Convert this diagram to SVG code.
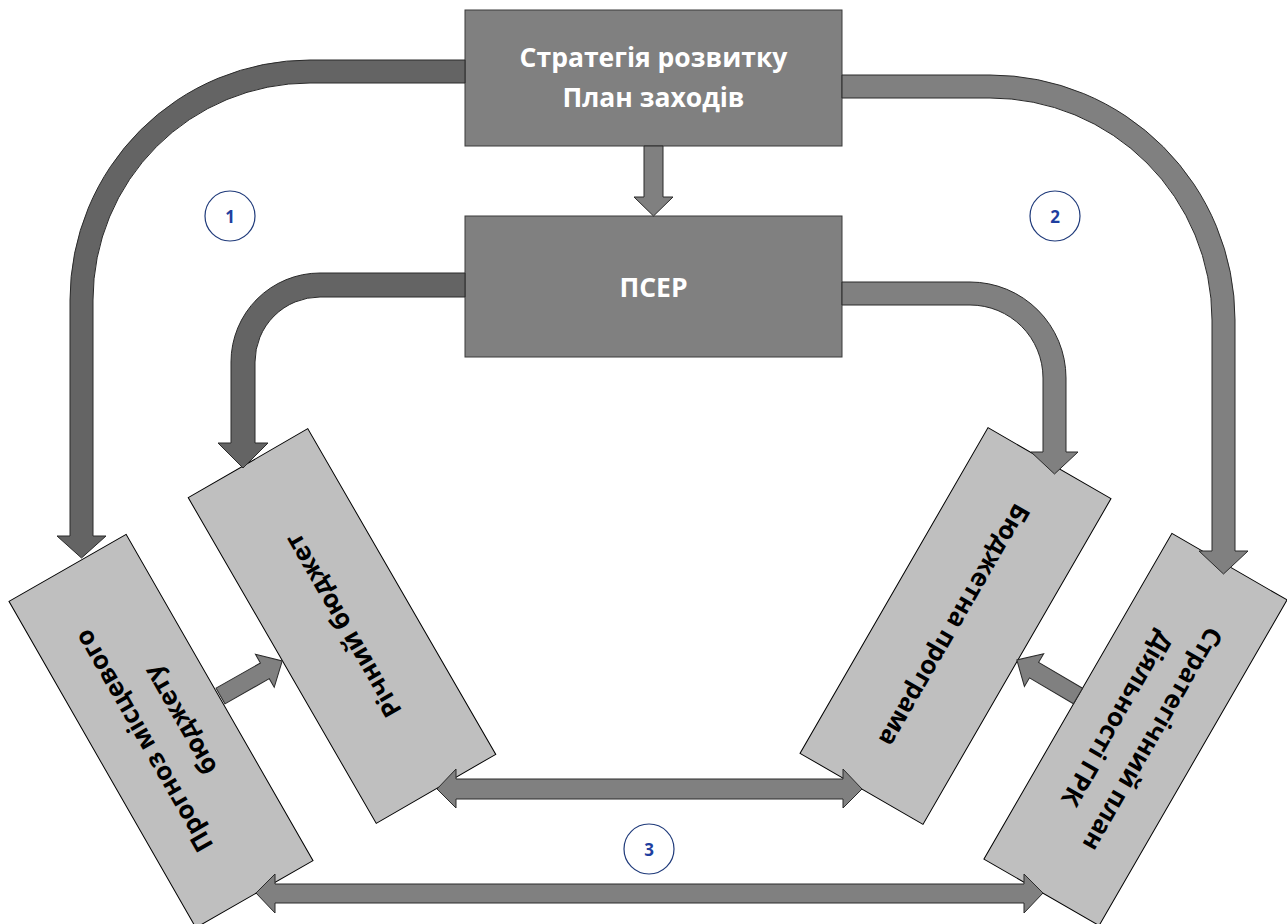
<svg xmlns="http://www.w3.org/2000/svg" width="1287" height="924" viewBox="0 0 1287 924">
<style>
.topbox{fill:#808080;stroke:#3a3a3a;stroke-width:1}
.rotbox{fill:#bfbfbf;stroke:#000;stroke-width:1}
.toptxt{font-family:"Open Sans","Liberation Sans",sans-serif;font-weight:700;font-size:26.5px;fill:#fff;text-anchor:middle}
.rottxt{font-family:"Open Sans","Liberation Sans",sans-serif;font-weight:700;font-size:25.5px;fill:#000;text-anchor:middle;dominant-baseline:central}
.dark{fill:#646464;stroke:#2a2a2a;stroke-width:1}
.mid{fill:#808080;stroke:#2a2a2a;stroke-width:1}
.badge{fill:#fff;stroke:#1f3a7a;stroke-width:1.2}
.badgetxt{font-family:"Open Sans","Liberation Sans",sans-serif;font-weight:700;font-size:17px;fill:#1f3fa0;text-anchor:middle;dominant-baseline:central}
</style>
<rect width="1287" height="924" fill="#fff"/>
<g id="node-strategy">
<rect class="topbox" x="465" y="10" width="377" height="136"/>
<text class="toptxt" x="653.5" y="67">Стратегія розвитку</text>
<text class="toptxt" x="653.5" y="107">План заходів</text>
</g>
<g id="node-pser">
<rect class="topbox" x="465" y="216" width="377" height="141"/>
<text class="toptxt" x="653.5" y="297">ПСЕР</text>
</g>
<g id="node-prognoz">
<rect class="rotbox" x="-188" y="-67.5" width="376" height="135" transform="translate(161,731) rotate(60.2)"/>
<g transform="translate(161,731) rotate(-119.8)">
<text class="rottxt" x="0" y="-21">Прогноз місцевого</text>
<text class="rottxt" x="0" y="21">бюджету</text>
</g>
</g>
<g id="node-richnyi">
<rect class="rotbox" x="-188" y="-69" width="376" height="138" transform="translate(342,626) rotate(60)"/>
<text class="rottxt" x="0" y="0" transform="translate(342,626) rotate(-120)">Річний бюджет</text>
</g>
<g id="node-prohrama">
<rect class="rotbox" x="-188" y="-71" width="376" height="142" transform="translate(955.5,626) rotate(120)"/>
<text class="rottxt" x="0" y="0" transform="translate(955.5,626) rotate(120)">Бюджетна програма</text>
</g>
<g id="node-stratplan">
<rect class="rotbox" x="-188" y="-66.5" width="376" height="133" transform="translate(1135.5,729.5) rotate(120)"/>
<g transform="translate(1135.5,729.5) rotate(120)">
<text class="rottxt" x="0" y="-21">Стратегічний план</text>
<text class="rottxt" x="0" y="20">Діяльності ГРК</text>
</g>
</g>
<g id="badges">
<g id="badge-1"><circle class="badge" cx="230" cy="216" r="25"/><text class="badgetxt" x="230" y="216">1</text></g>
<g id="badge-2"><circle class="badge" cx="1055" cy="216" r="25"/><text class="badgetxt" x="1055" y="216">2</text></g>
<g id="badge-3"><circle class="badge" cx="649" cy="849" r="25"/><text class="badgetxt" x="649" y="849">3</text></g>
</g>
<g id="connectors">
<path class="dark" d="M465,60 L310,60 A240,240 0 0 0 70,300 L70,536 L57,536 L81.5,558 L106,536 L93,536 L93,300 A217,217 0 0 1 310,83 L465,83 Z"/>
<path class="dark" d="M465,273 L320,273 A89,89 0 0 0 231,362 L231,443 L218,443 L243,468 L268,443 L255,443 L255,362 A65,65 0 0 1 320,297 L465,297 Z"/>
<path class="mid" d="M842,75 L990,75 A245,245 0 0 1 1235,320 L1235,551 L1248,551 L1223.5,574 L1199,551 L1212,551 L1212,320 A222,222 0 0 0 990,98 L842,98 Z"/>
<path class="mid" d="M842,282 L970,282 A96,96 0 0 1 1066,378 L1066,452 L1078,452 L1054.5,474 L1031,452 L1043,452 L1043,378 A73,73 0 0 0 970,305 L842,305 Z"/>
<polygon class="mid" points="644,146 663,146 663,197 673,197 653.5,216 634,197 644,197"/>
<polygon class="mid" points="0,-9 51,-9 51,-19 71,0 51,19 51,9 0,9" transform="translate(220.5,696) rotate(-29.6)"/>
<polygon class="mid" points="0,-9 51,-9 51,-19 71,0 51,19 51,9 0,9" transform="translate(1078,696) rotate(210.5)"/>
<polygon class="mid" points="437,789 456,769 456,779 843,779 843,769 862,789 843,808 843,799 456,799 456,808"/>
<polygon class="mid" points="256,893 275,874 275,884 1024,884 1024,874 1043,893 1024,913 1024,903 275,903 275,913"/>
</g>
</svg>
